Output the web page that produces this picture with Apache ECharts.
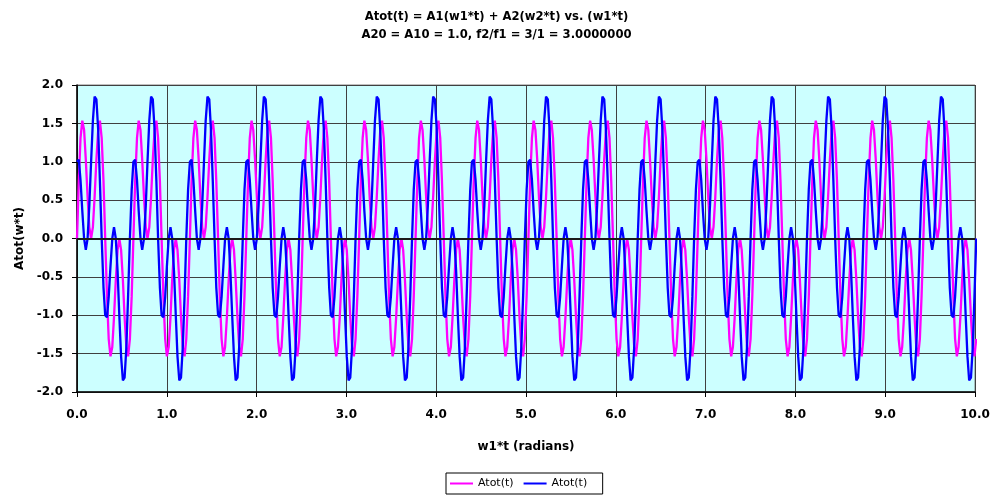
<!DOCTYPE html>
<html>
<head>
<meta charset="utf-8">
<script src="https://cdn.jsdelivr.net/npm/echarts@6/dist/echarts.min.js"></script>
<style>
html,body{margin:0;padding:0;background:#fff;}
#chart{width:993px;height:498px;}
</style>
</head>
<body>
<div id="chart"></div>
<script>
// Title lines
const titleLines = ['Atot(t) = A1(w1*t) + A2(w2*t) vs. (w1*t)', 'A20 = A10 = 1.0, f2/f1 = 3/1 = 3.0000000'];
const xAxisName = 'w1*t (radians)';
const yAxisName = 'Atot(w*t)';
const seriesNames = ['Atot(t)', 'Atot(t) '];

// Tick labels
const xTickValues = [0,1,2,3,4,5,6,7,8,9,10];
const xTickLabels = ['0.0','1.0','2.0','3.0','4.0','5.0','6.0','7.0','8.0','9.0','10.0'];
const yTickValues = [-2,-1.5,-1,-0.5,0,0.5,1,1.5,2];
const yTickLabels = ['-2.0','-1.5','-1.0','-0.5','0.0','0.5','1.0','1.5','2.0'];

// x values (w1*t, radians)
const xValues = [
0,0.020,0.039,0.059,0.079,0.098,0.118,0.137,0.157,0.177,0.196,0.216,0.236,0.255,0.275,0.295,0.314,0.334,0.353,0.373,0.393,0.412,0.432,0.452,0.471,0.491,0.511,0.530,0.550,0.569,0.589,0.609,
0.628,0.648,0.668,0.687,0.707,0.726,0.746,0.766,0.785,0.805,0.825,0.844,0.864,0.884,0.903,0.923,0.942,0.962,0.982,1.001,1.021,1.041,1.060,1.080,1.100,1.119,1.139,1.158,1.178,1.198,1.217,1.237,
1.257,1.276,1.296,1.316,1.335,1.355,1.374,1.394,1.414,1.433,1.453,1.473,1.492,1.512,1.532,1.551,1.571,1.590,1.610,1.630,1.649,1.669,1.689,1.708,1.728,1.748,1.767,1.787,1.806,1.826,1.846,1.865,
1.885,1.905,1.924,1.944,1.963,1.983,2.003,2.022,2.042,2.062,2.081,2.101,2.121,2.140,2.160,2.179,2.199,2.219,2.238,2.258,2.278,2.297,2.317,2.337,2.356,2.376,2.395,2.415,2.435,2.454,2.474,2.494,
2.513,2.533,2.553,2.572,2.592,2.611,2.631,2.651,2.670,2.690,2.710,2.729,2.749,2.769,2.788,2.808,2.827,2.847,2.867,2.886,2.906,2.926,2.945,2.965,2.985,3.004,3.024,3.043,3.063,3.083,3.102,3.122,
3.142,3.161,3.181,3.200,3.220,3.240,3.259,3.279,3.299,3.318,3.338,3.358,3.377,3.397,3.416,3.436,3.456,3.475,3.495,3.515,3.534,3.554,3.574,3.593,3.613,3.632,3.652,3.672,3.691,3.711,3.731,3.750,
3.770,3.790,3.809,3.829,3.848,3.868,3.888,3.907,3.927,3.947,3.966,3.986,4.006,4.025,4.045,4.064,4.084,4.104,4.123,4.143,4.163,4.182,4.202,4.222,4.241,4.261,4.280,4.300,4.320,4.339,4.359,4.379,
4.398,4.418,4.438,4.457,4.477,4.496,4.516,4.536,4.555,4.575,4.595,4.614,4.634,4.653,4.673,4.693,4.712,4.732,4.752,4.771,4.791,4.811,4.830,4.850,4.869,4.889,4.909,4.928,4.948,4.968,4.987,5.007,
5.027,5.046,5.066,5.085,5.105,5.125,5.144,5.164,5.184,5.203,5.223,5.243,5.262,5.282,5.301,5.321,5.341,5.360,5.380,5.400,5.419,5.439,5.459,5.478,5.498,5.517,5.537,5.557,5.576,5.596,5.616,5.635,
5.655,5.675,5.694,5.714,5.733,5.753,5.773,5.792,5.812,5.832,5.851,5.871,5.890,5.910,5.930,5.949,5.969,5.989,6.008,6.028,6.048,6.067,6.087,6.106,6.126,6.146,6.165,6.185,6.205,6.224,6.244,6.264,
6.283,6.303,6.322,6.342,6.362,6.381,6.401,6.421,6.440,6.460,6.480,6.499,6.519,6.538,6.558,6.578,6.597,6.617,6.637,6.656,6.676,6.696,6.715,6.735,6.754,6.774,6.794,6.813,6.833,6.853,6.872,6.892,
6.912,6.931,6.951,6.970,6.990,7.010,7.029,7.049,7.069,7.088,7.108,7.127,7.147,7.167,7.186,7.206,7.226,7.245,7.265,7.285,7.304,7.324,7.343,7.363,7.383,7.402,7.422,7.442,7.461,7.481,7.501,7.520,
7.540,7.559,7.579,7.599,7.618,7.638,7.658,7.677,7.697,7.717,7.736,7.756,7.775,7.795,7.815,7.834,7.854,7.874,7.893,7.913,7.933,7.952,7.972,7.991,8.011,8.031,8.050,8.070,8.090,8.109,8.129,8.149,
8.168,8.188,8.207,8.227,8.247,8.266,8.286,8.306,8.325,8.345,8.364,8.384,8.404,8.423,8.443,8.463,8.482,8.502,8.522,8.541,8.561,8.580,8.600,8.620,8.639,8.659,8.679,8.698,8.718,8.738,8.757,8.777,
8.796,8.816,8.836,8.855,8.875,8.895,8.914,8.934,8.954,8.973,8.993,9.012,9.032,9.052,9.071,9.091,9.111,9.130,9.150,9.170,9.189,9.209,9.228,9.248,9.268,9.287,9.307,9.327,9.346,9.366,9.386,9.405,
9.425,9.444,9.464,9.484,9.503,9.523,9.543,9.562,9.582,9.601,9.621,9.641,9.660,9.680,9.700,9.719,9.739,9.759,9.778,9.798,9.817,9.837,9.857,9.876,9.896,9.916,9.935,9.955,9.975,9.994,10.014
];

// Series 1 (magenta) values
const atotMagenta = [
0,0.751,1.307,1.536,1.414,1.027,0.541,0.149,0,0.149,0.541,1.027,1.414,1.536,1.307,0.751,0,-0.751,-1.307,-1.536,-1.414,-1.027,-0.541,-0.149,0,-0.149,-0.541,-1.027,-1.414,-1.536,-1.307,-0.751,
0,0.751,1.307,1.536,1.414,1.027,0.541,0.149,0,0.149,0.541,1.027,1.414,1.536,1.307,0.751,0,-0.751,-1.307,-1.536,-1.414,-1.027,-0.541,-0.149,0,-0.149,-0.541,-1.027,-1.414,-1.536,-1.307,-0.751,
0,0.751,1.307,1.536,1.414,1.027,0.541,0.149,0,0.149,0.541,1.027,1.414,1.536,1.307,0.751,0,-0.751,-1.307,-1.536,-1.414,-1.027,-0.541,-0.149,0,-0.149,-0.541,-1.027,-1.414,-1.536,-1.307,-0.751,
0,0.751,1.307,1.536,1.414,1.027,0.541,0.149,0,0.149,0.541,1.027,1.414,1.536,1.307,0.751,0,-0.751,-1.307,-1.536,-1.414,-1.027,-0.541,-0.149,0,-0.149,-0.541,-1.027,-1.414,-1.536,-1.307,-0.751,
0,0.751,1.307,1.536,1.414,1.027,0.541,0.149,0,0.149,0.541,1.027,1.414,1.536,1.307,0.751,0,-0.751,-1.307,-1.536,-1.414,-1.027,-0.541,-0.149,0,-0.149,-0.541,-1.027,-1.414,-1.536,-1.307,-0.751,
0,0.751,1.307,1.536,1.414,1.027,0.541,0.149,0,0.149,0.541,1.027,1.414,1.536,1.307,0.751,0,-0.751,-1.307,-1.536,-1.414,-1.027,-0.541,-0.149,0,-0.149,-0.541,-1.027,-1.414,-1.536,-1.307,-0.751,
0,0.751,1.307,1.536,1.414,1.027,0.541,0.149,0,0.149,0.541,1.027,1.414,1.536,1.307,0.751,0,-0.751,-1.307,-1.536,-1.414,-1.027,-0.541,-0.149,0,-0.149,-0.541,-1.027,-1.414,-1.536,-1.307,-0.751,
0,0.751,1.307,1.536,1.414,1.027,0.541,0.149,0,0.149,0.541,1.027,1.414,1.536,1.307,0.751,0,-0.751,-1.307,-1.536,-1.414,-1.027,-0.541,-0.149,0,-0.149,-0.541,-1.027,-1.414,-1.536,-1.307,-0.751,
0,0.751,1.307,1.536,1.414,1.027,0.541,0.149,0,0.149,0.541,1.027,1.414,1.536,1.307,0.751,0,-0.751,-1.307,-1.536,-1.414,-1.027,-0.541,-0.149,0,-0.149,-0.541,-1.027,-1.414,-1.536,-1.307,-0.751,
0,0.751,1.307,1.536,1.414,1.027,0.541,0.149,0,0.149,0.541,1.027,1.414,1.536,1.307,0.751,0,-0.751,-1.307,-1.536,-1.414,-1.027,-0.541,-0.149,0,-0.149,-0.541,-1.027,-1.414,-1.536,-1.307,-0.751,
0,0.751,1.307,1.536,1.414,1.027,0.541,0.149,0,0.149,0.541,1.027,1.414,1.536,1.307,0.751,0,-0.751,-1.307,-1.536,-1.414,-1.027,-0.541,-0.149,0,-0.149,-0.541,-1.027,-1.414,-1.536,-1.307,-0.751,
0,0.751,1.307,1.536,1.414,1.027,0.541,0.149,0,0.149,0.541,1.027,1.414,1.536,1.307,0.751,0,-0.751,-1.307,-1.536,-1.414,-1.027,-0.541,-0.149,0,-0.149,-0.541,-1.027,-1.414,-1.536,-1.307,-0.751,
0,0.751,1.307,1.536,1.414,1.027,0.541,0.149,0,0.149,0.541,1.027,1.414,1.536,1.307,0.751,0,-0.751,-1.307,-1.536,-1.414,-1.027,-0.541,-0.149,0,-0.149,-0.541,-1.027,-1.414,-1.536,-1.307,-0.751,
0,0.751,1.307,1.536,1.414,1.027,0.541,0.149,0,0.149,0.541,1.027,1.414,1.536,1.307,0.751,0,-0.751,-1.307,-1.536,-1.414,-1.027,-0.541,-0.149,0,-0.149,-0.541,-1.027,-1.414,-1.536,-1.307,-0.751,
0,0.751,1.307,1.536,1.414,1.027,0.541,0.149,0,0.149,0.541,1.027,1.414,1.536,1.307,0.751,0,-0.751,-1.307,-1.536,-1.414,-1.027,-0.541,-0.149,0,-0.149,-0.541,-1.027,-1.414,-1.536,-1.307,-0.751,
0,0.751,1.307,1.536,1.414,1.027,0.541,0.149,0,0.149,0.541,1.027,1.414,1.536,1.307,0.751,0,-0.751,-1.307,-1.536,-1.414,-1.027,-0.541,-0.149,0,-0.149,-0.541,-1.027,-1.414,-1.536,-1.307
];

// Series 2 (blue) values
const atotBlue = [
1,1.027,0.765,0.36,0,-0.149,0,0.425,1,1.536,1.848,1.812,1.414,0.751,0,-0.636,-1,-1.027,-0.765,-0.36,0,0.149,0,-0.425,-1,-1.536,-1.848,-1.812,-1.414,-0.751,0,0.636,
1,1.027,0.765,0.36,0,-0.149,0,0.425,1,1.536,1.848,1.812,1.414,0.751,0,-0.636,-1,-1.027,-0.765,-0.36,0,0.149,0,-0.425,-1,-1.536,-1.848,-1.812,-1.414,-0.751,0,0.636,
1,1.027,0.765,0.36,0,-0.149,0,0.425,1,1.536,1.848,1.812,1.414,0.751,0,-0.636,-1,-1.027,-0.765,-0.36,0,0.149,0,-0.425,-1,-1.536,-1.848,-1.812,-1.414,-0.751,0,0.636,
1,1.027,0.765,0.36,0,-0.149,0,0.425,1,1.536,1.848,1.812,1.414,0.751,0,-0.636,-1,-1.027,-0.765,-0.36,0,0.149,0,-0.425,-1,-1.536,-1.848,-1.812,-1.414,-0.751,0,0.636,
1,1.027,0.765,0.36,0,-0.149,0,0.425,1,1.536,1.848,1.812,1.414,0.751,0,-0.636,-1,-1.027,-0.765,-0.36,0,0.149,0,-0.425,-1,-1.536,-1.848,-1.812,-1.414,-0.751,0,0.636,
1,1.027,0.765,0.36,0,-0.149,0,0.425,1,1.536,1.848,1.812,1.414,0.751,0,-0.636,-1,-1.027,-0.765,-0.36,0,0.149,0,-0.425,-1,-1.536,-1.848,-1.812,-1.414,-0.751,0,0.636,
1,1.027,0.765,0.36,0,-0.149,0,0.425,1,1.536,1.848,1.812,1.414,0.751,0,-0.636,-1,-1.027,-0.765,-0.36,0,0.149,0,-0.425,-1,-1.536,-1.848,-1.812,-1.414,-0.751,0,0.636,
1,1.027,0.765,0.36,0,-0.149,0,0.425,1,1.536,1.848,1.812,1.414,0.751,0,-0.636,-1,-1.027,-0.765,-0.36,0,0.149,0,-0.425,-1,-1.536,-1.848,-1.812,-1.414,-0.751,0,0.636,
1,1.027,0.765,0.36,0,-0.149,0,0.425,1,1.536,1.848,1.812,1.414,0.751,0,-0.636,-1,-1.027,-0.765,-0.36,0,0.149,0,-0.425,-1,-1.536,-1.848,-1.812,-1.414,-0.751,0,0.636,
1,1.027,0.765,0.36,0,-0.149,0,0.425,1,1.536,1.848,1.812,1.414,0.751,0,-0.636,-1,-1.027,-0.765,-0.36,0,0.149,0,-0.425,-1,-1.536,-1.848,-1.812,-1.414,-0.751,0,0.636,
1,1.027,0.765,0.36,0,-0.149,0,0.425,1,1.536,1.848,1.812,1.414,0.751,0,-0.636,-1,-1.027,-0.765,-0.36,0,0.149,0,-0.425,-1,-1.536,-1.848,-1.812,-1.414,-0.751,0,0.636,
1,1.027,0.765,0.36,0,-0.149,0,0.425,1,1.536,1.848,1.812,1.414,0.751,0,-0.636,-1,-1.027,-0.765,-0.36,0,0.149,0,-0.425,-1,-1.536,-1.848,-1.812,-1.414,-0.751,0,0.636,
1,1.027,0.765,0.36,0,-0.149,0,0.425,1,1.536,1.848,1.812,1.414,0.751,0,-0.636,-1,-1.027,-0.765,-0.36,0,0.149,0,-0.425,-1,-1.536,-1.848,-1.812,-1.414,-0.751,0,0.636,
1,1.027,0.765,0.36,0,-0.149,0,0.425,1,1.536,1.848,1.812,1.414,0.751,0,-0.636,-1,-1.027,-0.765,-0.36,0,0.149,0,-0.425,-1,-1.536,-1.848,-1.812,-1.414,-0.751,0,0.636,
1,1.027,0.765,0.36,0,-0.149,0,0.425,1,1.536,1.848,1.812,1.414,0.751,0,-0.636,-1,-1.027,-0.765,-0.36,0,0.149,0,-0.425,-1,-1.536,-1.848,-1.812,-1.414,-0.751,0,0.636,
1,1.027,0.765,0.36,0,-0.149,0,0.425,1,1.536,1.848,1.812,1.414,0.751,0,-0.636,-1,-1.027,-0.765,-0.36,0,0.149,0,-0.425,-1,-1.536,-1.848,-1.812,-1.414,-0.751,0
];

const FONT = '"DejaVu Sans", Arial, sans-serif';
const chart = echarts.init(document.getElementById('chart'), null, {renderer: 'canvas'});

function lookup(values, labels, v) {
  for (let i = 0; i < values.length; i++) {
    if (Math.abs(values[i] - v) < 1e-6) return labels[i];
  }
  return '';
}

const option = {
  animation: false,
  backgroundColor: '#ffffff',
  title: {
    text: titleLines.join('\n'),
    left: 'center',
    top: 3,
    textStyle: {fontFamily: FONT, fontWeight: 'bold', fontSize: 11.6, color: '#000', lineHeight: 18.3}
  },
  legend: {
    left: 446,
    top: 473,
    orient: 'horizontal',
    data: [
      {name: seriesNames[0], icon: 'rect'},
      {name: seriesNames[1], icon: 'rect'}
    ],
    itemWidth: 23,
    itemHeight: 2,
    itemGap: 10,
    padding: [5, 12, 5, 4],
    borderColor: '#000',
    borderWidth: 1,
    textStyle: {fontFamily: FONT, fontSize: 11, color: '#000'}
  },
  grid: {
    left: 77, right: 18, top: 85, bottom: 106,
    show: true,
    backgroundColor: '#ccffff',
    borderColor: '#808080',
    borderWidth: 1
  },
  xAxis: {
    type: 'value',
    min: 0, max: 10, interval: 1,
    name: xAxisName,
    nameLocation: 'middle',
    nameGap: 49,
    nameTextStyle: {fontFamily: FONT, fontWeight: 'bold', fontSize: 12, color: '#000'},
    axisLine: {show: true, onZero: false, lineStyle: {color: '#000', width: 1.5}},
    axisTick: {show: true, length: 5, lineStyle: {color: '#000', width: 1}},
    axisLabel: {
      fontFamily: FONT, fontWeight: 'bold', fontSize: 12, color: '#000', margin: 17,
      showMinLabel: true, showMaxLabel: true,
      formatter: v => lookup(xTickValues, xTickLabels, v)
    },
    splitLine: {show: true, lineStyle: {color: '#404040', width: 1}}
  },
  yAxis: {
    type: 'value',
    min: -2, max: 2, interval: 0.5,
    name: yAxisName,
    nameLocation: 'middle',
    nameGap: 51,
    nameTextStyle: {fontFamily: FONT, fontWeight: 'bold', fontSize: 12, color: '#000'},
    axisLine: {show: true, lineStyle: {color: '#000', width: 1.5}},
    axisTick: {show: true, length: 5, lineStyle: {color: '#000', width: 1}},
    axisLabel: {
      fontFamily: FONT, fontWeight: 'bold', fontSize: 12, color: '#000', margin: 14,
      showMinLabel: true, showMaxLabel: true,
      formatter: v => lookup(yTickValues, yTickLabels, v)
    },
    splitLine: {show: true, lineStyle: {color: '#404040', width: 1}}
  },
  series: [
    {
      name: seriesNames[0],
      type: 'line',
      data: xValues.map((x, i) => [x, atotMagenta[i]]),
      showSymbol: false,
      symbol: 'none',
      color: '#ff00ff',
      lineStyle: {color: '#ff00ff', width: 2.3},
      z: 2,
      markLine: {
        silent: true,
        symbol: ['none', 'none'],
        label: {show: false},
        lineStyle: {color: '#1a1a1a', width: 2, type: 'solid'},
        data: [{yAxis: 0}]
      }
    },
    {
      name: seriesNames[1],
      type: 'line',
      data: xValues.map((x, i) => [x, atotBlue[i]]),
      showSymbol: false,
      symbol: 'none',
      color: '#0000ff',
      lineStyle: {color: '#0000ff', width: 2.3},
      z: 3
    }
  ]
};
chart.setOption(option);
</script>
</body>
</html>
